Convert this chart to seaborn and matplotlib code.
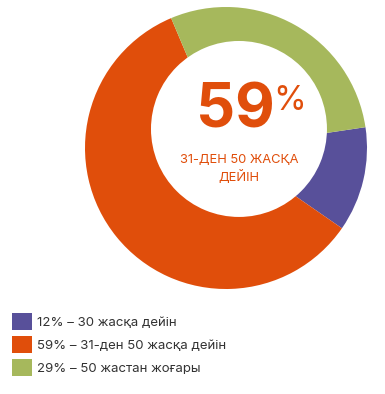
import matplotlib
matplotlib.use("Agg")
import matplotlib.pyplot as plt
import seaborn as sns

# data
labels = ["12% – 30 жасқа дейін", "59% – 31-ден 50 жасқа дейін", "29% – 50 жастан жоғары"]
shares = [12, 59, 29]
colors = ["#58509A", "#E04E0B", "#A6B85C"]
center_value = "59"
center_caption = "31-ДЕН 50 ЖАСҚА\nДЕЙІН"

sns.set_theme(style="white")
plt.rcParams["font.family"] = ["Inter", "DejaVu Sans"]

W, H = 385, 394
fig = plt.figure(figsize=(W / 100, H / 100), dpi=100)
fig.patch.set_facecolor("white")

# donut axes: outer ring centre (226, 148) px, radius 141 px
cx, cy, r = 226, 148, 141
ax = fig.add_axes([(cx - r) / W, (H - cy - r) / H, 2 * r / W, 2 * r / H])
wedges, _ = ax.pie(
    shares,
    colors=colors,
    startangle=8.5,
    counterclock=False,
    radius=1,
    wedgeprops=dict(edgecolor="none"),
)
# the hole sits a bit up and to the right of the ring centre
hole_center = (0.092, 0.135)
ax.pie([1], colors=["white"], radius=0.624, center=hole_center,
       wedgeprops=dict(edgecolor="none"))
ax.set_xlim(-1, 1)
ax.set_ylim(-1, 1)
ax.set_aspect("equal")
ax.axis("off")

# centre text
ax.text(0.348, 0.259, center_value, ha="right", va="center", fontsize=44,
        fontweight="bold", color=colors[1])
ax.text(0.45, 0.33, "%", ha="center", va="center", fontsize=24,
        color=colors[1])
ax.text(hole_center[0], -0.149, center_caption, ha="center", va="center",
        fontsize=9.3, color=colors[1], linespacing=1.3)

# legend
fig.legend(
    wedges,
    labels,
    loc="upper left",
    bbox_to_anchor=(12 / W, 1 - 313 / H),
    frameon=False,
    borderaxespad=0,
    borderpad=0,
    fontsize=9.5,
    handlelength=1.5,
    handleheight=1.6,
    handletextpad=0.4,
    labelspacing=0.45,
    labelcolor="#333333",
)

fig.savefig("out.png", dpi=100, facecolor="white")
